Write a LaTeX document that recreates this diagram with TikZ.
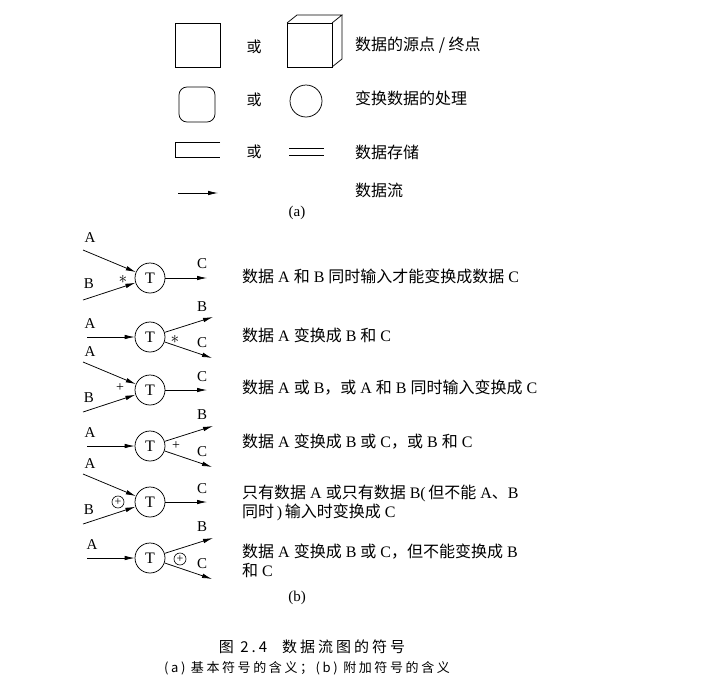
\documentclass[tikz,border=0pt]{standalone}
\usepackage{fontspec}
\setmainfont{Liberation Serif}
\newfontfamily\cjk{Noto Sans CJK SC}
\newfontfamily\cjkcap[LetterSpace=20]{Noto Sans CJK SC}
\newcommand\zh[1]{{\cjk #1}}
\usetikzlibrary{
  arrows.meta,
  positioning,
  calc
}

\begin{document}
\begin{tikzpicture}[x=1pt, y=-1pt,
  lab/.style={font=\fontsize{15}{18}\selectfont, inner sep=0pt},
  txt/.style={anchor=west, align=left, inner sep=0pt, font=\fontsize{16}{19}\selectfont},
  tn/.style={circle, draw, line width=0.75pt, minimum size=30pt, inner sep=0pt, font=\fontsize{16}{18}\selectfont},
  xo/.style={circle, draw, line width=0.65pt, minimum size=12pt, inner sep=0pt, font=\fontsize{12}{12}\selectfont},
  arr/.style={-{Latex[length=10pt,width=4.5pt]}, line width=0.75pt},
  shp/.style={line width=0.75pt}
]
  \useasboundingbox (0,0) rectangle (708,697);
  % --- (a) basic symbols ---
  % source / sink
  \draw[shp] (175,23) rectangle (220,67);
  \node[lab] (or1) at (254,47) {\zh{或}};
  \draw[shp] (287,23) rectangle (332,67);
  \draw[shp] (287,23) -- (297,15) -- (342,15) -- (332,23);
  \draw[shp] (342,15) -- (342,59) -- (332,67);
  \node[txt] (srcTxt) at (355,45) {\zh{数据的源点 / 终点}};
  % process
  \draw[shp, rounded corners=8pt] (179,87) rectangle (215,122);
  \node[lab] (or2) at (254,100) {\zh{或}};
  \node[tn, minimum size=32pt] (circ) at (306,101) {};
  \node[txt] (procTxt) at (355,98) {\zh{变换数据的处理}};
  % store
  \draw[shp] (220,142) -- (175,142) -- (175,157) -- (220,157);
  \node[lab] (or3) at (254,152) {\zh{或}};
  \draw[shp] (289,148) -- (324,148) (289,155) -- (324,155);
  \node[txt] (storeTxt) at (355,152) {\zh{数据存储}};
  % flow
  \coordinate (f0) at (178,193);
  \coordinate (f1) at (218,193);
  \draw[arr] (f0) -- (f1);
  \node[txt] (flowTxt) at (355,190) {\zh{数据流}};
  \node[lab] (capA) at (297,213) {(a)};

  % --- (b) additional symbols ---
  % row 1: A and B together
  \begin{scope}[shift={(0,278)}]
    \node[tn] (t1) at (150,0) {T};
    \coordinate (a1) at (83,-28); \coordinate (b1) at (83,22); \coordinate (c1) at (207,0);
    \draw[arr] (a1) -- (t1); \draw[arr] (b1) -- (t1); \draw[arr] (t1) -- (c1);
    \node[lab] (la1) at (90,-40) {A}; \node[lab] (lb1) at (89,6) {B}; \node[lab] (lc1) at (202,-14) {C};
    \node[lab, font=\fontsize{18}{18}\selectfont] (s1) at (123,1) {$\ast$};
    \node[txt] (d1) at (242,-2) {\zh{数据} A \zh{和} B \zh{同时输入才能变换成数据} C};
  \end{scope}
  % row 2: A into B and C
  \begin{scope}[shift={(0,337)}]
    \node[tn] (t2) at (150,0) {T};
    \coordinate (a2) at (87,0); \coordinate (b2) at (213,-20); \coordinate (c2) at (212,21);
    \draw[arr] (a2) -- (t2); \draw[arr] (t2) -- (b2); \draw[arr] (t2) -- (c2);
    \node[lab] (la2) at (90,-13) {A}; \node[lab] (lb2) at (202,-30) {B}; \node[lab] (lc2) at (202,6) {C};
    \node[lab, font=\fontsize{18}{18}\selectfont] (s2) at (175,2) {$\ast$};
    \node[txt] (d2) at (242,-2) {\zh{数据} A \zh{变换成} B \zh{和} C};
  \end{scope}
  % row 3: A or B, or both
  \begin{scope}[shift={(0,390)}]
    \node[tn] (t3) at (150,0) {T};
    \coordinate (a3) at (83,-28); \coordinate (b3) at (83,22); \coordinate (c3) at (207,0);
    \draw[arr] (a3) -- (t3); \draw[arr] (b3) -- (t3); \draw[arr] (t3) -- (c3);
    \node[lab] (la3) at (90,-38) {A}; \node[lab] (lb3) at (89,8) {B}; \node[lab] (lc3) at (202,-13) {C};
    \node[lab, font=\fontsize{14}{14}\selectfont] (s3) at (120,-2) {+};
    \node[txt] (d3) at (242,-2) {\zh{数据} A \zh{或} B\zh{，或} A \zh{和} B \zh{同时输入变换成} C};
  \end{scope}
  % row 4: A into B or C, or both
  \begin{scope}[shift={(0,446)}]
    \node[tn] (t4) at (150,0) {T};
    \coordinate (a4) at (87,0); \coordinate (b4) at (213,-20); \coordinate (c4) at (212,21);
    \draw[arr] (a4) -- (t4); \draw[arr] (t4) -- (b4); \draw[arr] (t4) -- (c4);
    \node[lab] (la4) at (90,-13) {A}; \node[lab] (lb4) at (202,-31) {B}; \node[lab] (lc4) at (202,6) {C};
    \node[lab, font=\fontsize{14}{14}\selectfont] (s4) at (176,0) {+};
    \node[txt] (d4) at (242,-4) {\zh{数据} A \zh{变换成} B \zh{或} C\zh{，或} B \zh{和} C};
  \end{scope}
  % row 5: only A or only B
  \begin{scope}[shift={(0,502)}]
    \node[tn] (t5) at (150,0) {T};
    \coordinate (a5) at (83,-28); \coordinate (b5) at (83,22); \coordinate (c5) at (207,0);
    \draw[arr] (a5) -- (t5); \draw[arr] (b5) -- (t5); \draw[arr] (t5) -- (c5);
    \node[lab] (la5) at (90,-38) {A}; \node[lab] (lb5) at (89,8) {B}; \node[lab] (lc5) at (202,-13) {C};
    \node[xo] (s5) at (118,0) {+};
    \node[txt] (d5) at (242,1) {\zh{只有数据} A \zh{或只有数据} B(\,\zh{但不能} A\zh{、}B\\\zh{同时}\,)\,\zh{输入时变换成} C};
  \end{scope}
  % row 6: A into B or C, not both
  \begin{scope}[shift={(0,558)}]
    \node[tn] (t6) at (150,0) {T};
    \coordinate (a6) at (87,0); \coordinate (b6) at (213,-20); \coordinate (c6) at (212,21);
    \draw[arr] (a6) -- (t6); \draw[arr] (t6) -- (b6); \draw[arr] (t6) -- (c6);
    \node[lab] (la6) at (92,-13) {A}; \node[lab] (lb6) at (202,-31) {B}; \node[lab] (lc6) at (202,6) {C};
    \node[xo] (s6) at (180,1) {+};
    \node[txt] (d6) at (242,3) {\zh{数据} A \zh{变换成} B \zh{或} C\zh{，但不能变换成} B\\\zh{和} C};
  \end{scope}
  \node[lab] (capB) at (297,598) {(b)};

  % --- caption ---
  \node[font=\fontsize{15}{18}\selectfont, inner sep=0pt] (cap1) at (312,647) {\cjkcap 图 2.4\quad 数据流图的符号};
  \node[font=\fontsize{13}{16}\selectfont, inner sep=0pt] (cap2) at (307,668) {\cjkcap (a) 基本符号的含义；(b) 附加符号的含义};
\end{tikzpicture}
\end{document}
